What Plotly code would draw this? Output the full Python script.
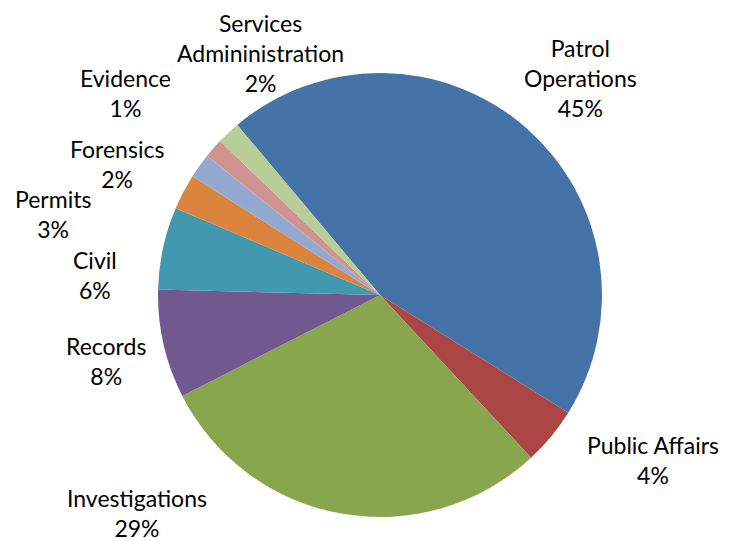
import plotly.graph_objects as go

# Department share of the total (percent)
departments = ["Patrol<br>Operations", "Public Affairs", "Investigations", "Records",
               "Civil", "Permits", "Forensics", "Evidence",
               "Services<br>Admininistration"]
shares = [45.0, 4.2, 29.4, 7.9, 6.0, 2.6, 1.8, 1.4, 1.7]

colors = ["#4572A7", "#AA4643", "#89A54E", "#71588F", "#4198AF",
          "#DB843D", "#93A9CF", "#D19392", "#B9CD96"]

W, H = 729, 541
cx, cy, r = 380, 295, 222

# label block centres (pixels from top-left)
label_pos = [(580, 78), (653, 460), (137, 513), (106, 361), (95, 275),
             (53, 214), (117, 164), (125, 93), (260, 53)]

fig = go.Figure(go.Pie(
    labels=departments,
    values=shares,
    sort=False,
    direction="clockwise",
    rotation=320,
    marker=dict(colors=colors, line=dict(width=0)),
    textinfo="none",
    hoverinfo="label+percent",
    domain=dict(x=[(cx - r) / W, (cx + r) / W],
                y=[1 - (cy + r) / H, 1 - (cy - r) / H]),
))

total = sum(shares)
for name, v, (px, py) in zip(departments, shares, label_pos):
    fig.add_annotation(
        x=px / W, y=1 - py / H, xref="paper", yref="paper",
        text=f"{name}<br>{round(v / total * 100)}%",
        showarrow=False, xanchor="center", yanchor="middle", align="center",
        font=dict(family="Lato", size=23, color="#000000"),
    )

fig.update_layout(
    width=W, height=H,
    margin=dict(l=0, r=0, t=0, b=0),
    paper_bgcolor="white", plot_bgcolor="white",
    showlegend=False,
)

fig.write_html("out.html")
